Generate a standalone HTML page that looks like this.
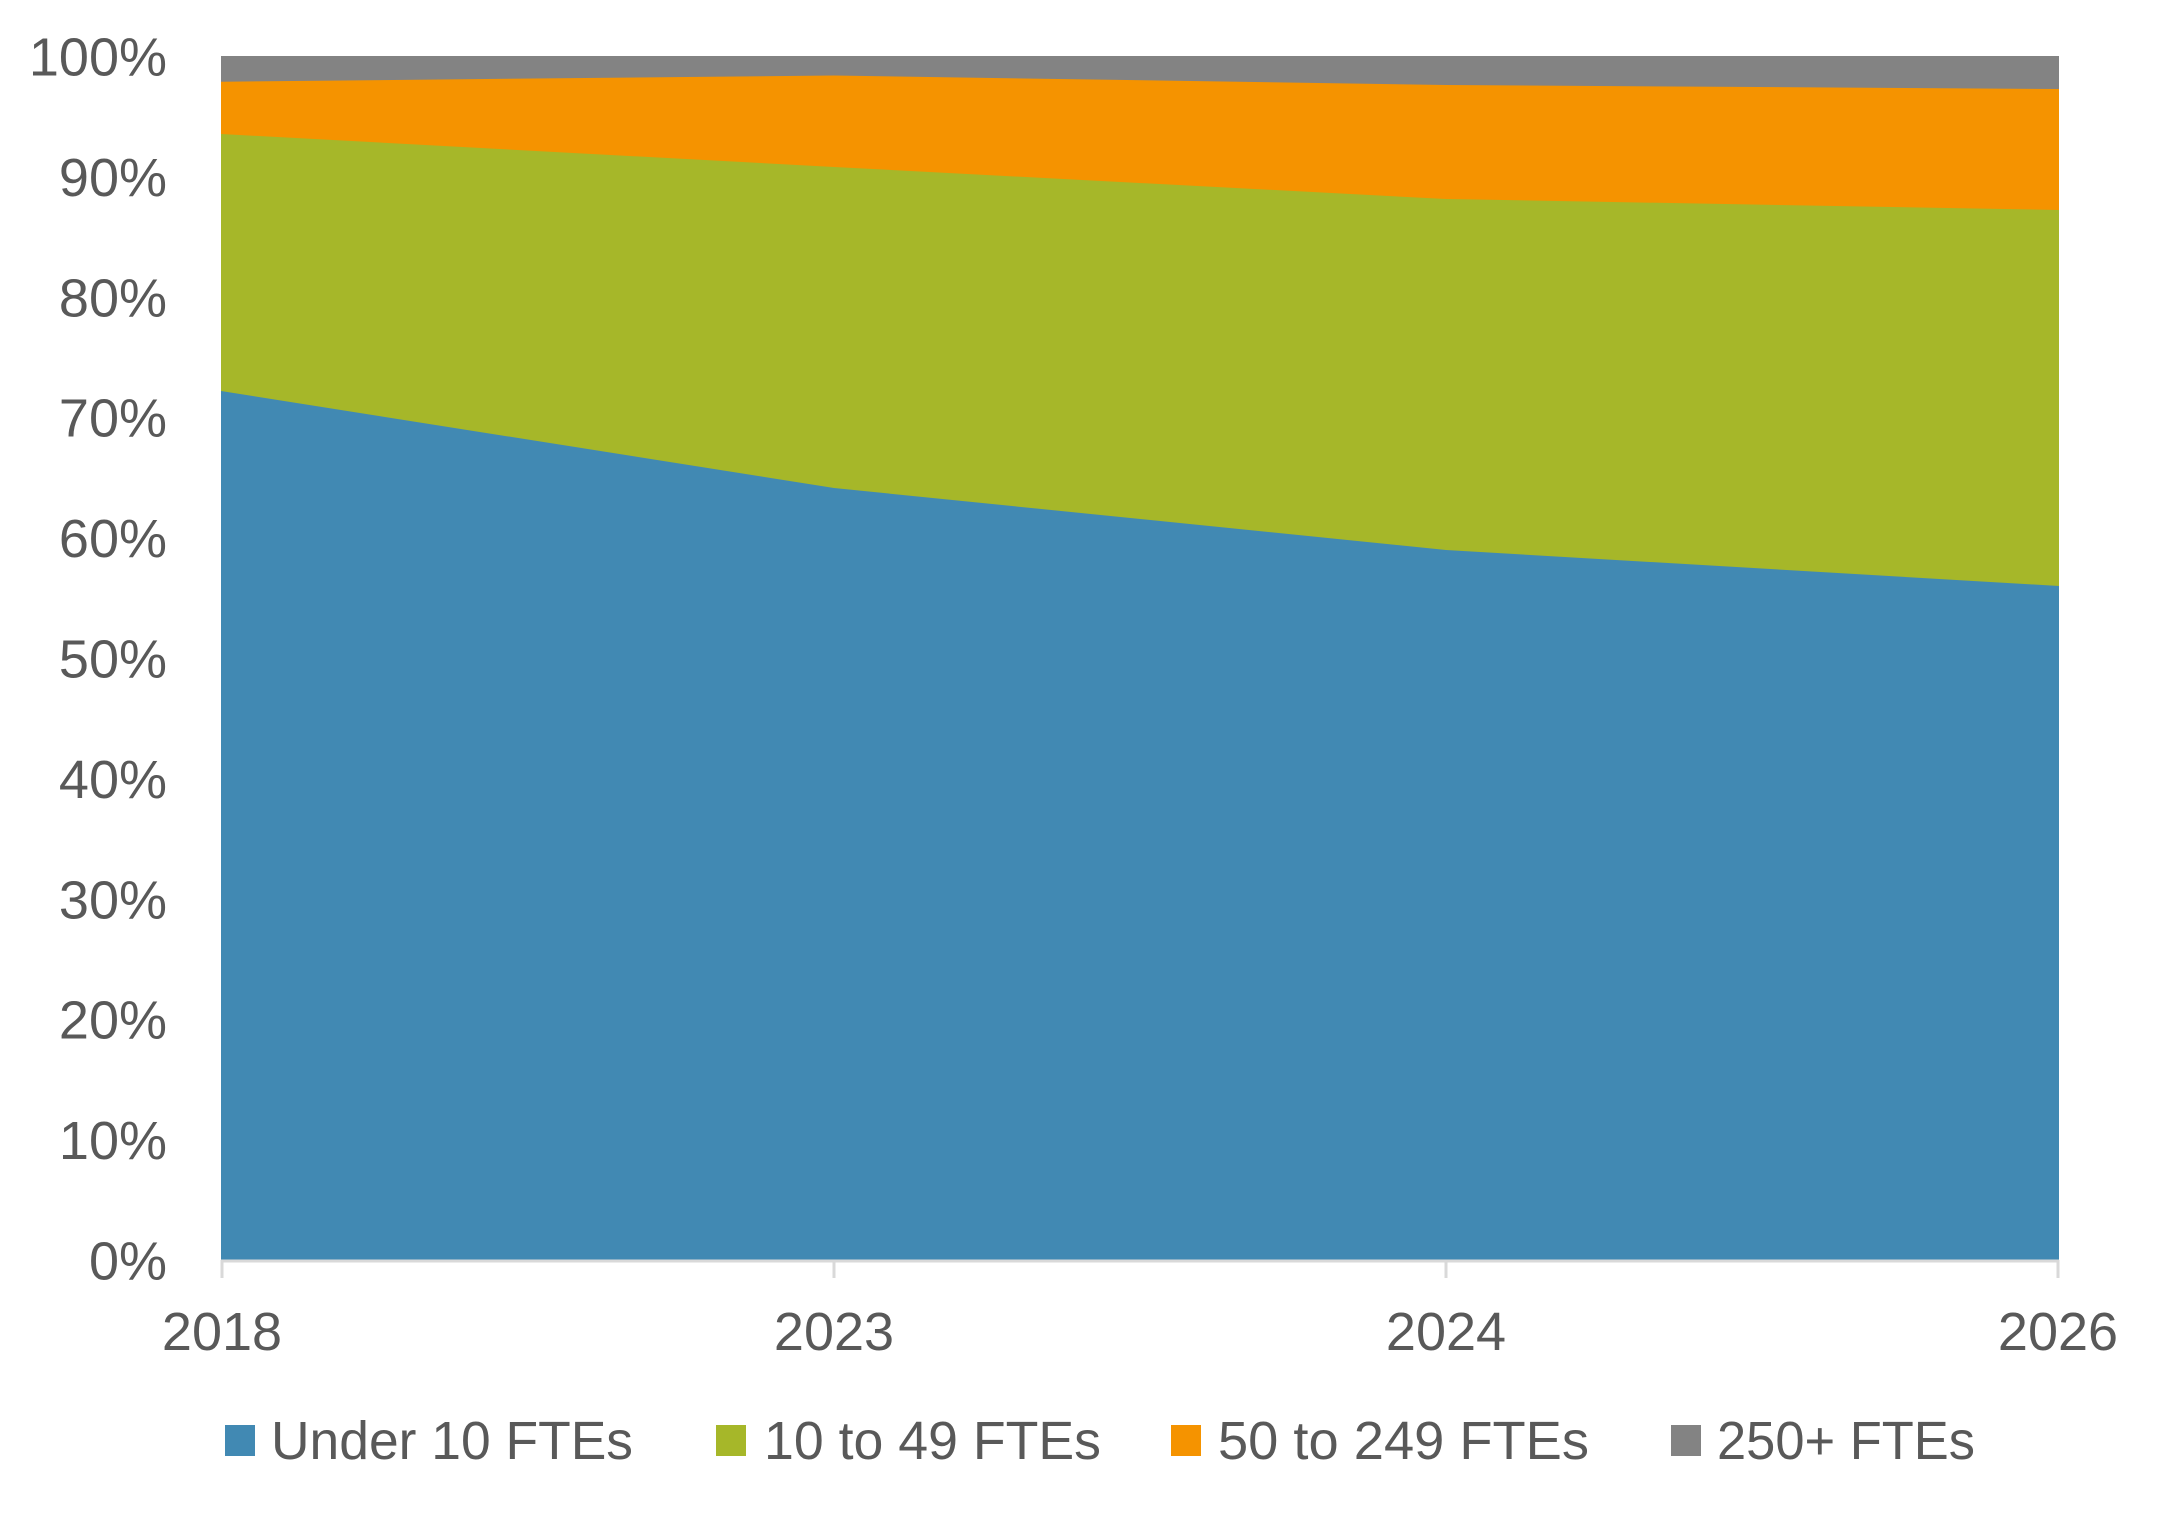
<!DOCTYPE html>
<html><head><meta charset="utf-8"><style>
html,body{margin:0;padding:0;background:#fff;}
svg{display:block;}
text{font-family:"Liberation Sans",sans-serif;fill:#595959;}
</style></head><body>
<svg width="2173" height="1513" viewBox="0 0 2173 1513" xmlns="http://www.w3.org/2000/svg">
<!-- plot: x 221..2059, y 56..1260 -->
<polygon fill="#838383" points="221,56 2059,56 2059,1260 221,1260"/>
<polygon fill="#f59300" points="221,81.7 834,75.5 1446,85 2059,89 2059,1260 221,1260"/>
<polygon fill="#a6b729" points="221,134 834,167 1446,199 2059,210 2059,1260 221,1260"/>
<polygon fill="#4189b3" points="221,391 834,488 1446,550 2059,586 2059,1260 221,1260"/>
<line x1="221" y1="1261" x2="2059" y2="1261" stroke="#d9d9d9" stroke-width="3"/>
<g stroke="#d9d9d9" stroke-width="3">
<line x1="222" y1="1260" x2="222" y2="1278"/>
<line x1="834" y1="1260" x2="834" y2="1278"/>
<line x1="1446" y1="1260" x2="1446" y2="1278"/>
<line x1="2058" y1="1260" x2="2058" y2="1278"/>
</g>
<g font-size="54" text-anchor="end">
<text x="167" y="1279.5">0%</text>
<text x="167" y="1159">10%</text>
<text x="167" y="1038.7">20%</text>
<text x="167" y="918.3">30%</text>
<text x="167" y="797.9">40%</text>
<text x="167" y="677.5">50%</text>
<text x="167" y="557.1">60%</text>
<text x="167" y="436.7">70%</text>
<text x="167" y="316.3">80%</text>
<text x="167" y="195.9">90%</text>
<text x="167" y="75.5">100%</text>
</g>
<g font-size="54" text-anchor="middle">
<text x="222" y="1350">2018</text>
<text x="834" y="1350">2023</text>
<text x="1446" y="1350">2024</text>
<text x="2058" y="1350">2026</text>
</g>
<rect x="225" y="1425" width="30" height="31" fill="#4189b3"/>
<rect x="716" y="1425" width="30" height="31" fill="#a6b729"/>
<rect x="1171" y="1425" width="30" height="31" fill="#f59300"/>
<rect x="1671" y="1425" width="30" height="31" fill="#838383"/>
<g font-size="54">
<text x="271" y="1459" textLength="362" lengthAdjust="spacingAndGlyphs">Under 10 FTEs</text>
<text x="764" y="1459" textLength="337" lengthAdjust="spacingAndGlyphs">10 to 49 FTEs</text>
<text x="1218" y="1459" textLength="371" lengthAdjust="spacingAndGlyphs">50 to 249 FTEs</text>
<text x="1717" y="1459" textLength="258" lengthAdjust="spacingAndGlyphs">250+ FTEs</text>
</g>
</svg>
</body></html>
